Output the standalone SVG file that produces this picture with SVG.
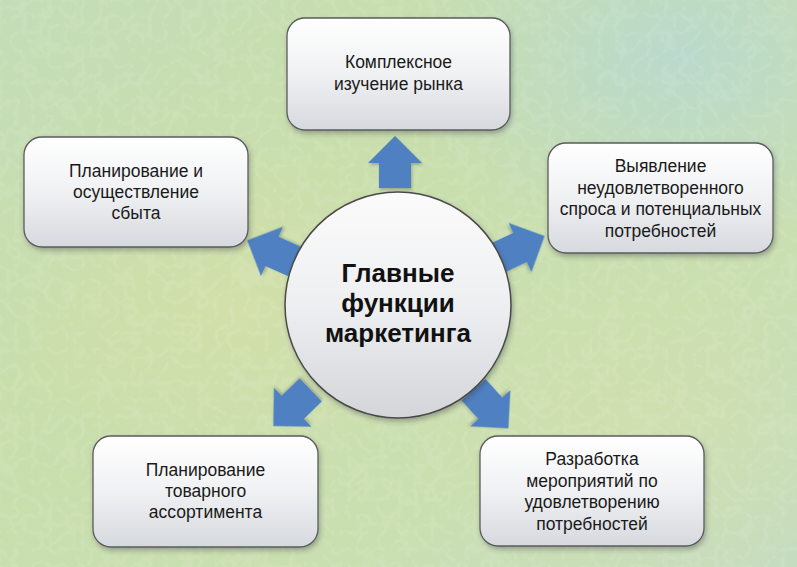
<svg xmlns="http://www.w3.org/2000/svg" width="797" height="567" viewBox="0 0 797 567">
<style>
.t{font-family:"Liberation Sans",Arial,sans-serif;font-size:17.5px;fill:#1a1a1a;text-anchor:middle}
.c{font-family:"Liberation Sans",Arial,sans-serif;font-size:26px;font-weight:bold;fill:#111;text-anchor:middle}
.box{fill:url(#boxg);stroke:#5c5c5c;stroke-width:1.3;filter:url(#sh)}
.arr{fill:#4f81c2;filter:url(#ash)}
</style>
<defs>
<linearGradient id="bg" x1="0" y1="0" x2="1" y2="1">
<stop offset="0" stop-color="#c4ddb8"/>
<stop offset="0.35" stop-color="#c9deac"/>
<stop offset="0.7" stop-color="#cadfb0"/>
<stop offset="1" stop-color="#c6dcc0"/>
</linearGradient>
<radialGradient id="b1" cx="0.85" cy="0.1" r="0.35">
<stop offset="0" stop-color="#b5d8d4" stop-opacity="0.8"/>
<stop offset="1" stop-color="#b5d8d4" stop-opacity="0"/>
</radialGradient>
<radialGradient id="b2" cx="0.3" cy="0.55" r="0.3">
<stop offset="0" stop-color="#d6e0a8" stop-opacity="0.7"/>
<stop offset="1" stop-color="#d6e0a8" stop-opacity="0"/>
</radialGradient>
<radialGradient id="b3" cx="0.8" cy="0.75" r="0.3">
<stop offset="0" stop-color="#d4e0ac" stop-opacity="0.6"/>
<stop offset="1" stop-color="#d4e0ac" stop-opacity="0"/>
</radialGradient>
<linearGradient id="boxg" x1="0" y1="0" x2="0" y2="1">
<stop offset="0" stop-color="#ffffff"/>
<stop offset="0.5" stop-color="#f0f1f3"/>
<stop offset="1" stop-color="#d6d9de"/>
</linearGradient>
<linearGradient id="circg" x1="0" y1="0" x2="0" y2="1">
<stop offset="0" stop-color="#fbfbfb"/>
<stop offset="0.5" stop-color="#eeeff1"/>
<stop offset="1" stop-color="#d3d5d9"/>
</linearGradient>
<filter id="sh" x="-10%" y="-10%" width="125%" height="130%">
<feDropShadow dx="1.5" dy="3" stdDeviation="2.5" flood-color="#334" flood-opacity="0.35"/>
</filter>
<filter id="ash" x="-20%" y="-20%" width="150%" height="150%">
<feDropShadow dx="1" dy="2" stdDeviation="1.5" flood-color="#334" flood-opacity="0.3"/>
</filter>
<filter id="tex" x="0" y="0" width="100%" height="100%">
<feTurbulence type="turbulence" baseFrequency="0.06" numOctaves="2" seed="7" result="n"/>
<feColorMatrix in="n" type="matrix" values="0 0 0 0 1  0 0 0 0 1  0 0 0 0 1  -2.2 0 0 0 0.55" result="w"/>
<feComposite in="w" in2="SourceGraphic" operator="in"/>
</filter>
</defs>
<g id="background">
<rect width="797" height="567" fill="url(#bg)"/>
<rect width="797" height="567" fill="url(#b1)"/>
<rect width="797" height="567" fill="url(#b2)"/>
<rect width="797" height="567" fill="url(#b3)"/>
<rect width="797" height="567" fill="#fff" opacity="0.2" filter="url(#tex)"/>
</g>
<g id="connectors">
<polygon class="arr" points="0,-26 27,1 16,1 16,26 -16,26 -16,1 -27,1" transform="translate(395,162)"/>
<polygon class="arr" points="0,-26 27,1 16,1 16,26 -16,26 -16,1 -27,1" transform="translate(521,247) rotate(65)"/>
<polygon class="arr" points="0,-26 27,1 16,1 16,26 -16,26 -16,1 -27,1" transform="translate(271,251) rotate(-66)"/>
<polygon class="arr" points="0,-26 27,1 16,1 16,26 -16,26 -16,1 -27,1" transform="translate(292,408) rotate(-134)"/>
<polygon class="arr" points="0,-26 27,1 16,1 16,26 -16,26 -16,1 -27,1" transform="translate(491,409) rotate(138)"/>
</g>
<g id="center">
<circle cx="398" cy="305" r="113" fill="url(#circg)" stroke="#4a4a4a" stroke-width="1.5" filter="url(#sh)"/>
<text class="c" x="398" y="282">Главные</text>
<text class="c" x="398" y="312">функции</text>
<text class="c" x="398" y="342">маркетинга</text>
</g>
<g id="n-top">
<rect class="box" x="287" y="18" width="223" height="112" rx="18"/>
<text class="t" x="398.5" y="68">Комплексное</text>
<text class="t" x="398.5" y="89.5">изучение рынка</text>
</g>
<g id="n-right">
<rect class="box" x="548" y="143" width="225" height="110" rx="18"/>
<text class="t" x="660.5" y="172">Выявление</text>
<text class="t" x="660.5" y="193.5">неудовлетворенного</text>
<text class="t" x="660.5" y="215">спроса и потенциальных</text>
<text class="t" x="660.5" y="236.5">потребностей</text>
</g>
<g id="n-left">
<rect class="box" x="24" y="137" width="224" height="110" rx="18"/>
<text class="t" x="136" y="177">Планирование и</text>
<text class="t" x="136" y="198">осуществление</text>
<text class="t" x="136" y="219">сбыта</text>
</g>
<g id="n-bottom-left">
<rect class="box" x="93" y="436" width="225" height="111" rx="18"/>
<text class="t" x="205.5" y="476">Планирование</text>
<text class="t" x="205.5" y="497">товарного</text>
<text class="t" x="205.5" y="518">ассортимента</text>
</g>
<g id="n-bottom-right">
<rect class="box" x="480" y="436" width="224" height="110" rx="18"/>
<text class="t" x="592" y="465">Разработка</text>
<text class="t" x="592" y="486.5">мероприятий по</text>
<text class="t" x="592" y="508">удовлетворению</text>
<text class="t" x="592" y="529.5">потребностей</text>
</g>
</svg>
